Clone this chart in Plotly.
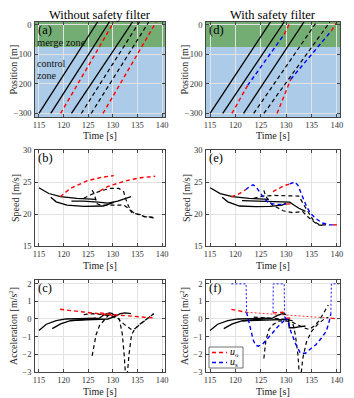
import plotly.graph_objects as go

# ---- data ----
# position panels: times (s) at which each vehicle is at -300 m and at +10 m
pos_ends = [-300, 10]
entry_a = [115.0, 117.4, 119.4, 121.6, 123.6, 125.6, 128.0]
exit_a = [126.9, 129.3, 130.2, 134.0, 135.4, 137.3, 138.8]
entry_d = [115.0, 117.5, 119.3, 121.6, 123.6, 125.6, 128.2]
exit_d = [126.9, 129.6, 130.8, 133.5, 136.0, 138.6, 140.0]
kind = ["solid", "solid", "red", "solid", "dash", "dash", "red"]

# vehicle 3 / vehicle 7 in (d): red - blue - red pieces
d3_pos = [-300, -205, -32, 10]
d3_t = [119.3, 122.4, 129.6, 130.8]
d7_pos = [-300, -184, -20, 10]
d7_t = [128.2, 130.9, 138.9, 140.0]

# speed, without filter
b1_t = [115.0, 117.0, 119.4, 122.7, 126.6]
b1_v = [24.1, 23.2, 22.7, 22.45, 22.3]
b2_t = [117.4, 118.5, 120.7, 124.1, 128.1, 129.5, 130.2]
b2_v = [22.6, 21.9, 21.4, 21.2, 21.25, 21.6, 21.8]
b4_t = [121.6, 124.0, 127.0, 129.0, 131.0, 133.7]
b4_v = [22.0, 22.0, 21.85, 21.7, 22.0, 22.7]
b3_t = [119.3, 121.4, 124.8, 127.5, 130.2]
b3_v = [22.7, 24.0, 25.2, 25.7, 26.0]
b7_t = [127.4, 129.0, 131.0, 133.5, 136.0, 138.6]
b7_v = [23.6, 24.3, 24.8, 25.35, 25.7, 25.9]
b5_t = [124.1, 125.5, 127.5, 129.5, 131.2, 132.2, 132.6, 133.2, 133.9, 134.6, 135.6, 136.3, 138.3]
b5_v = [22.45, 23.0, 23.6, 24.0, 24.0, 23.5, 22.4, 21.2, 20.4, 20.0, 19.9, 19.6, 19.4]
b6_t = [125.8, 126.2, 126.5, 126.8, 127.5, 130.0, 132.2, 133.2, 133.9, 134.9, 136.5, 138.3]
b6_v = [23.7, 23.2, 22.4, 21.6, 21.4, 21.35, 21.4, 20.9, 20.2, 20.0, 19.6, 19.5]

# speed, with filter
e2_t = [117.4, 118.5, 120.8, 124.0, 126.8, 129.2, 130.0]
e2_v = [22.6, 21.9, 21.25, 21.15, 21.2, 21.4, 21.7]
e4_t = [121.3, 124.0, 127.0, 129.4, 130.7, 131.5, 132.5, 133.8]
e4_v = [22.1, 22.0, 21.9, 21.8, 21.85, 21.4, 20.9, 20.4]
e3r_t = [119.2, 120.6, 122.0]
e3r_v = [22.7, 23.1, 23.8]
e3b_t = [122.0, 122.8, 123.5, 124.1, 124.8, 125.7, 126.6, 128.0, 129.4, 130.0]
e3b_v = [23.8, 24.3, 24.55, 24.2, 23.4, 22.4, 21.7, 21.5, 21.5, 21.55]
e3r2_t = [130.0, 130.6, 131.0]
e3r2_v = [21.55, 21.6, 21.6]
e7r_t = [127.4, 128.5, 129.5, 130.7]
e7r_v = [23.5, 24.0, 24.4, 24.7]
e7b_t = [130.7, 131.3, 131.7, 132.3, 132.8, 133.4, 134.0, 134.8, 135.8, 137.1, 138.5, 139.2]
e7b_v = [24.7, 24.95, 25.0, 24.5, 23.5, 22.3, 21.2, 20.1, 19.3, 18.6, 18.3, 18.3]
e7r2_t = [139.2, 140.2]
e7r2_v = [18.3, 18.3]
e5_t = [123.6, 125.3, 127.7, 130.0, 132.5, 133.5, 134.5, 135.5, 136.6, 138.3]
e5_v = [22.45, 22.8, 22.9, 22.9, 22.8, 21.4, 20.2, 18.8, 18.3, 18.3]
e6_t = [125.6, 125.9, 126.6, 127.3, 128.5, 129.4, 131.4, 133.2, 134.2, 135.2, 136.2, 137.5]
e6_v = [23.7, 22.9, 22.0, 21.4, 20.9, 20.5, 20.2, 20.4, 19.6, 18.9, 18.3, 18.2]

# acceleration, without filter
c1_t = [115.0, 116.5, 118.5, 120.5, 123.0, 125.0, 126.6]
c1_a = [-0.65, -0.3, -0.1, 0.0, 0.02, 0.03, 0.05]
c2_t = [117.7, 119.4, 121.4, 124.8, 127.3, 128.3, 129.3, 130.0]
c2_a = [-0.55, -0.28, -0.1, -0.03, 0.05, 0.25, 0.35, 0.3]
c4_t = [121.6, 124.0, 127.0, 129.0, 130.5, 131.5, 132.5, 133.7]
c4_a = [-0.08, -0.06, -0.05, 0.0, 0.15, 0.3, 0.35, 0.3]
c3_t = [119.3, 122.0, 125.0, 128.0, 130.2]
c3_a = [0.55, 0.45, 0.35, 0.27, 0.2]
c7_t = [127.4, 130.0, 133.0, 136.0, 138.6]
c7_a = [0.35, 0.25, 0.18, 0.1, 0.05]
c5_t = [124.1, 126.0, 128.0, 130.0, 131.3, 131.9, 132.3, 132.6, 132.9, 133.3, 133.8, 134.5, 136.0, 137.5, 138.3]
c5_a = [0.25, 0.3, 0.25, 0.15, 0.0, -0.8, -2.0, -3.3, -3.3, -2.0, -0.9, -0.55, -0.2, 0.1, 0.3]
c6_t = [125.8, 126.2, 126.6, 127.3, 128.4, 129.1, 129.8, 130.8, 131.5, 132.5, 133.8, 134.5, 135.5, 137.0, 138.3]
c6_a = [-2.1, -1.4, -0.9, -0.37, 0.0, 0.2, 0.3, 0.15, -0.1, -0.35, -0.6, -0.55, -0.3, 0.0, 0.3]

# acceleration, with filter
f2_a = [-0.55, -0.28, -0.1, -0.03, 0.05, 0.2, 0.3, 0.25]
f4_t = [121.3, 124.0, 127.0, 129.5, 130.5, 130.6, 131.5, 132.5, 133.8]
f4_a = [-0.1, -0.08, -0.06, -0.04, -0.02, -0.5, -0.5, -0.45, -0.4]
f3r_t = [119.2, 121.0, 122.2]
f3r_a = [0.55, 0.45, 0.38]
f3b_t = [122.2, 122.6, 123.0, 123.5, 124.0, 124.5, 125.3, 126.3, 127.3, 128.3, 129.3, 130.0]
f3b_a = [0.38, -0.1, -0.6, -1.2, -1.5, -1.55, -1.45, -1.15, -0.8, -0.45, -0.15, 0.0]
f3r2_t = [130.0, 130.8]
f3r2_a = [0.05, 0.05]
f7r_t = [127.4, 128.3, 129.4, 129.8]
f7r_a = [0.35, 0.38, 0.38, 0.3]
f7b_t = [129.7, 130.3, 130.9, 131.9, 132.8, 133.8, 134.8, 135.9, 136.9, 137.9, 138.5, 138.8]
f7b_a = [0.1, -0.1, -0.7, -1.45, -1.95, -1.95, -1.7, -1.45, -1.1, -0.7, -0.1, 0.3]
f7r2_t = [138.8, 140.2]
f7r2_a = [0.05, 0.0]
nom_t = [122.2, 138.8]
nom_a = [0.38, 0.05]
bound_t = [[119.2, 122.1, 122.2], [127.4, 127.45, 129.6, 129.7], [138.8, 138.9, 140.4]]
bound_a = [[2, 2, 0.38], [0.37, 2, 2, 0.1], [0.3, 2, 2]]
f5_t = [123.6, 125.5, 128.0, 130.0, 131.2, 131.8, 132.3, 132.6, 132.9, 133.3, 134.0, 135.0, 136.2, 137.5, 138.3]
f5_a = [0.1, 0.08, 0.02, -0.02, -0.1, -0.9, -2.0, -3.2, -3.2, -2.2, -1.3, -0.7, -0.3, 0.0, 0.1]
f6_t = [125.6, 126.0, 126.6, 127.5, 128.5, 129.5, 131.0, 132.0, 133.5, 134.5, 135.5, 136.5, 137.6, 138.3]
f6_a = [-2.25, -1.2, -0.6, -0.3, -0.12, -0.1, -0.15, -0.3, -0.5, -0.6, -0.4, -0.1, 0.5, 0.8]

legend_names = ["<i>u</i><sub>o</sub>", "<i>u</i><sub>s</sub>"]

FONT = "Liberation Serif"
STYLE = {
    "solid": dict(color="black", width=1.3, dash="solid"),
    "dash": dict(color="black", width=1.2, dash="4px,3px"),
    "red": dict(color="#ff0000", width=1.4, dash="4px,3px"),
    "blue": dict(color="#0000ff", width=1.4, dash="4px,3px"),
    "bound": dict(color="#0000ff", width=0.9, dash="2px,2px"),
    "nom": dict(color="#ff0000", width=0.8, dash="2px,2px"),
}

fig = go.Figure()


def add(n, t, y, k):
    fig.add_trace(go.Scatter(
        x=t, y=y, mode="lines", line=STYLE[k],
        xaxis="x" if n == 1 else f"x{n}", yaxis="y" if n == 1 else f"y{n}",
        showlegend=False, hoverinfo="skip",
    ))


# (a) and (d)
for t0, t1, k in zip(entry_a, exit_a, kind):
    add(1, [t0, t1], pos_ends, k)
for i, (t0, t1, k) in enumerate(zip(entry_d, exit_d, kind)):
    if i in (2, 6):
        continue
    add(2, [t0, t1], pos_ends, k)
for tt, pp in ((d3_t, d3_pos), (d7_t, d7_pos)):
    add(2, tt[0:2], pp[0:2], "red")
    add(2, tt[1:3], pp[1:3], "blue")
    add(2, tt[2:4], pp[2:4], "red")

# (b)
for t, v, k in [(b1_t, b1_v, "solid"), (b2_t, b2_v, "solid"), (b4_t, b4_v, "solid"),
                (b5_t, b5_v, "dash"), (b6_t, b6_v, "dash"),
                (b3_t, b3_v, "red"), (b7_t, b7_v, "red")]:
    add(3, t, v, k)

# (e)
for t, v, k in [(b1_t, b1_v, "solid"), (e2_t, e2_v, "solid"), (e4_t, e4_v, "solid"),
                (e5_t, e5_v, "dash"), (e6_t, e6_v, "dash"),
                (e3r_t, e3r_v, "red"), (e3b_t, e3b_v, "blue"), (e3r2_t, e3r2_v, "red"),
                (e7r_t, e7r_v, "red"), (e7b_t, e7b_v, "blue"), (e7r2_t, e7r2_v, "red")]:
    add(4, t, v, k)

# (c)
for t, a, k in [(c1_t, c1_a, "solid"), (c2_t, c2_a, "solid"), (c4_t, c4_a, "solid"),
                (c5_t, c5_a, "dash"), (c6_t, c6_a, "dash"),
                (c3_t, c3_a, "red"), (c7_t, c7_a, "red")]:
    add(5, t, a, k)

# (f)
for bt, ba in zip(bound_t, bound_a):
    add(6, bt, ba, "bound")
add(6, nom_t, nom_a, "nom")
for t, a, k in [(c1_t, c1_a, "solid"), (c2_t, f2_a, "solid"), (f4_t, f4_a, "solid"),
                (f5_t, f5_a, "dash"), (f6_t, f6_a, "dash"),
                (f3r_t, f3r_a, "red"), (f3b_t, f3b_a, "blue"),
                (f3r2_t, f3r2_a, "red"), (f7r_t, f7r_a, "red"),
                (f7b_t, f7b_a, "blue"), (f7r2_t, f7r2_a, "red")]:
    add(6, t, a, k)

# ---- layout ----
# positions below are page pixels; the page body puts the figure 8px in
OFF = 8
W, H = 354 - OFF, 398 - OFF


def xp(px):
    return (px - OFF) / W


def yp(py):
    return 1 - (py - OFF) / H


cols = [(35, 165), (206, 340)]
rows = [(22, 117), (150, 246), (280, 372)]
yranges = [[-312, 10], [15, 30], [-3.02, 2.22]]
yticks = [[-300, -200, -100, 0], [15, 20, 25, 30], [-3, -2, -1, 0, 1, 2]]
ytitles = ["Position [m]", "Speed [m/s]", "Acceleration [m/s<sup>2</sup>]"]
ytitle_dx = [22, 20, 22]
labels = ["(a)", "(d)", "(b)", "(e)", "(c)", "(f)"]

axis_common = dict(
    showline=True, linecolor="#444", linewidth=0.8, mirror="ticks",
    ticks="inside", ticklen=3, tickcolor="#444",
    showgrid=True, gridcolor="#e2e2e2", gridwidth=0.6, zeroline=False,
    tickfont=dict(family=FONT, size=8.5, color="#333"), automargin=False,
)
title_font = dict(family=FONT, size=10, color="#222")
annotations = []
layout = {}
for r, (top, bot) in enumerate(rows):
    for c, (left, right) in enumerate(cols):
        n = r * 2 + c + 1
        xs = "" if n == 1 else str(n)
        layout[f"xaxis{xs}"] = dict(
            axis_common, domain=[xp(left), xp(right)], anchor=f"y{xs}",
            range=[114.2, 140.6], tickvals=[115, 120, 125, 130, 135, 140], ticklabelstandoff=0,
        )
        layout[f"yaxis{xs}"] = dict(
            axis_common, domain=[yp(bot), yp(top)], anchor=f"x{xs}",
            range=yranges[r], tickvals=yticks[r], ticklabelstandoff=1,
        )
        annotations.append(dict(
            text=labels[n - 1], x=0.015, y=1.0, xref=f"x{xs} domain", yref=f"y{xs} domain",
            xanchor="left", yanchor="top", showarrow=False, borderpad=0,
            font=dict(family=FONT, size=12.5, color="black"),
        ))
        # axis titles
        annotations.append(dict(
            text="Time [s]", x=xp((left + right) / 2), y=yp(bot + 19),
            xref="paper", yref="paper", xanchor="center", yanchor="middle",
            showarrow=False, borderpad=0, font=title_font,
        ))
        annotations.append(dict(
            text=ytitles[r], x=xp(left - ytitle_dx[r]), y=yp((top + bot) / 2),
            xref="paper", yref="paper", xanchor="center", yanchor="middle",
            textangle=-90, showarrow=False, borderpad=0, font=title_font,
        ))

annotations += [
    dict(text="Without safety filter", x=xp((cols[0][0] + cols[0][1]) / 2), y=yp(15),
         xref="paper", yref="paper", xanchor="center", yanchor="middle", showarrow=False,
         borderpad=0, font=dict(family=FONT, size=12.5, color="black")),
    dict(text="With safety filter", x=xp((cols[1][0] + cols[1][1]) / 2), y=yp(15),
         xref="paper", yref="paper", xanchor="center", yanchor="middle", showarrow=False,
         borderpad=0, font=dict(family=FONT, size=12.5, color="black")),
    dict(text="merge zone", x=0.005, y=-60, xref="x domain", yref="y",
         xanchor="left", yanchor="middle", showarrow=False, borderpad=0,
         font=dict(family=FONT, size=10.5, color="#111")),
    dict(text="control", x=0.005, y=-131, xref="x domain", yref="y",
         xanchor="left", yanchor="middle", showarrow=False, borderpad=0,
         font=dict(family=FONT, size=10, color="#111")),
    dict(text="zone", x=0.005, y=-170, xref="x domain", yref="y",
         xanchor="left", yanchor="middle", showarrow=False, borderpad=0,
         font=dict(family=FONT, size=10, color="#111")),
]

shapes = []
for xs in ("", "2"):
    shapes.append(dict(type="rect", xref=f"x{xs} domain", yref=f"y{xs}", x0=0, x1=1,
                       y0=-75, y1=10, fillcolor="#74ad74", line_width=0, layer="below"))
    shapes.append(dict(type="rect", xref=f"x{xs} domain", yref=f"y{xs}", x0=0, x1=1,
                       y0=-312, y1=-75, fillcolor="#abcbe8", line_width=0, layer="below"))

# small legend box in (f)
lx0, ly0, lx1, ly1 = 209, 347, 243, 368
shapes.append(dict(type="rect", xref="paper", yref="paper", x0=xp(lx0), x1=xp(lx1),
                   y0=yp(ly1), y1=yp(ly0), fillcolor="white",
                   line=dict(color="#333", width=0.7)))
for i, k in enumerate(["red", "blue"]):
    yy = yp(ly0 + 5.5 + i * 10)
    shapes.append(dict(type="line", xref="paper", yref="paper", x0=xp(lx0 + 3),
                       x1=xp(lx0 + 18), y0=yy, y1=yy, line=STYLE[k]))
    annotations.append(dict(text=legend_names[i], x=xp(lx0 + 20), y=yy,
                            xref="paper", yref="paper", xanchor="left", yanchor="middle",
                            showarrow=False, borderpad=0,
                            font=dict(family=FONT, size=10, color="black")))

fig.update_layout(
    width=W, height=H,
    margin=dict(l=0, r=0, t=0, b=0, pad=0, autoexpand=False),
    paper_bgcolor="white", plot_bgcolor="white",
    annotations=annotations, shapes=shapes, showlegend=False,
    **layout,
)

fig.write_html("out.html")
